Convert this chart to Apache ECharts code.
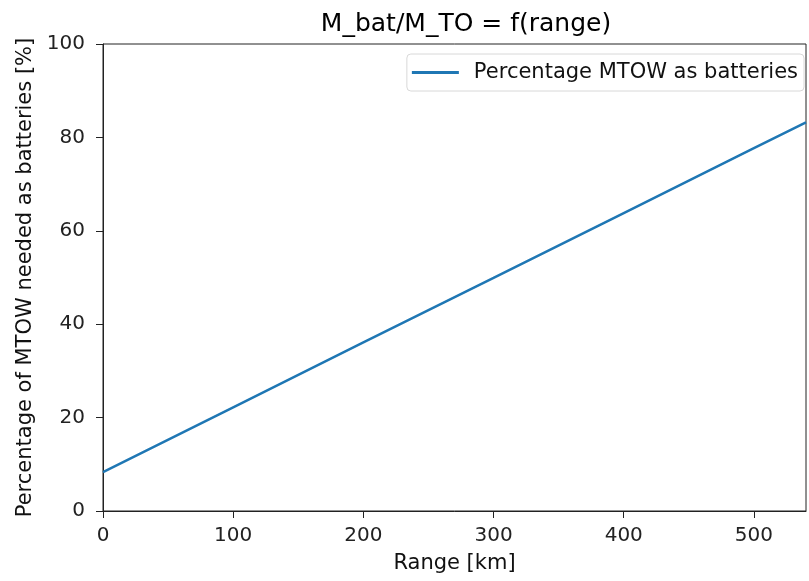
<!DOCTYPE html>
<html>
<head>
<meta charset="utf-8">
<script src="https://cdn.jsdelivr.net/npm/echarts@6/dist/echarts.min.js"></script>
<style>
  html, body { margin: 0; padding: 0; background: #fff; }
  #chart { width: 809px; height: 581px; }
</style>
</head>
<body>
<div id="chart"></div>
<script>
// range [km] and battery share of MTOW [%]
var ranges = [0, 100, 200, 300, 400, 500, 540];
var batteryPct = [8.3, 22.2, 36.1, 49.9, 63.8, 77.7, 83.2];
var seriesName = 'Percentage MTOW as batteries';

var pts = [];
for (var i = 0; i < ranges.length; i++) {
  pts.push([ranges[i], batteryPct[i]]);
}

var font = 'DejaVu Sans';
var chart = echarts.init(document.getElementById('chart'));
chart.setOption({
  animation: false,
  textStyle: { fontFamily: font },
  title: {
    text: 'M_bat/M_TO = f(range)',
    left: 461, top: 7, textAlign: 'center',
    textStyle: { fontFamily: font, fontSize: 25, fontWeight: 'normal', color: '#000' }
  },
  legend: {
    data: [{ name: seriesName, icon: 'rect' }],
    right: 5, top: 54,
    padding: [8, 6, 8, 5],
    itemWidth: 47, itemHeight: 3,
    backgroundColor: '#fff',
    borderColor: '#d8d8d8', borderWidth: 1, borderRadius: 4,
    textStyle: { fontFamily: font, fontSize: 21, color: '#111', padding: [0, 0, 0, 10] }
  },
  grid: {
    left: 103, right: 3, top: 44, bottom: 70,
    show: true, borderColor: '#222', borderWidth: 1
  },
  xAxis: {
    type: 'value', min: 0, max: 540, interval: 100,
    name: 'Range [km]', nameLocation: 'middle', nameGap: 42,
    nameTextStyle: { fontFamily: font, fontSize: 21, color: '#111' },
    splitLine: { show: false },
    axisLine: { show: true, lineStyle: { color: '#222', width: 1 } },
    axisTick: { show: true, length: 7, lineStyle: { color: '#222' } },
    axisLabel: { showMaxLabel: false, fontSize: 20, color: '#222', margin: 15 }
  },
  yAxis: {
    type: 'value', min: 0, max: 100, interval: 20,
    name: 'Percentage of MTOW needed as batteries [%]', nameLocation: 'middle', nameGap: 67,
    nameTextStyle: { fontFamily: font, fontSize: 21, color: '#111' },
    splitLine: { show: false },
    axisLine: { show: true, lineStyle: { color: '#222', width: 1 } },
    axisTick: { show: true, length: 7, lineStyle: { color: '#222' } },
    axisLabel: { fontSize: 20, color: '#222', margin: 18 }
  },
  series: [{
    name: seriesName,
    type: 'line',
    data: pts,
    showSymbol: false,
    lineStyle: { color: '#1f77b4', width: 2.5 },
    itemStyle: { color: '#1f77b4' }
  }]
});
</script>
</body>
</html>
